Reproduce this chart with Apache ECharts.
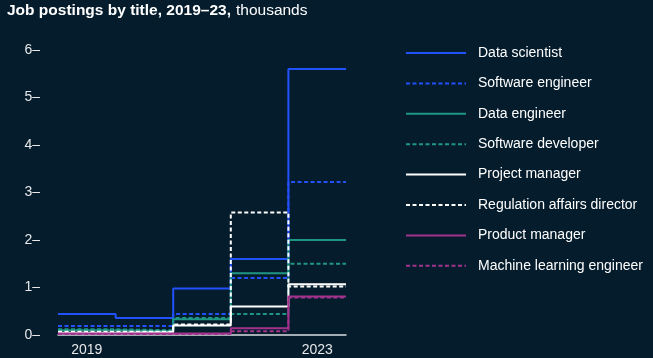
<!DOCTYPE html>
<html><head><meta charset="utf-8">
<script src="https://cdn.jsdelivr.net/npm/echarts@6/dist/echarts.min.js"></script>
<style>html,body{margin:0;padding:0;background:#051c2c;}#c{width:653px;height:358px;}</style>
</head><body><div id="c"></div>
<script>
const years = ['2019','2020','2021','2022','2023'];
const yTicks = [0,1,2,3,4,5,6];
const dataScientist      = [0.44, 0.36, 0.98, 1.60, 5.60];
const softwareEngineer   = [0.19, 0.19, 0.44, 1.20, 3.22];
const dataEngineer       = [0.10, 0.08, 0.33, 1.30, 2.00];
const softwareDeveloper  = [0.12, 0.10, 0.36, 0.44, 1.50];
const projectManager     = [0.05, 0.06, 0.20, 0.60, 1.07];
const regulationDirector = [0.07, 0.07, 0.22, 2.58, 1.02];
const productManager     = [0.03, 0.03, 0.03, 0.14, 0.81];
const mlEngineer         = [0.02, 0.02, 0.02, 0.08, 0.79];

const BLUE='#2251ff', TEAL='#1f9684', WHITE='#ffffff', MAG='#a2338d';
const FONT='Liberation Sans, Arial, sans-serif';
const defs = [
  ['Data scientist', dataScientist, BLUE, 'solid'],
  ['Software engineer', softwareEngineer, BLUE, 'dashed'],
  ['Data engineer', dataEngineer, TEAL, 'solid'],
  ['Software developer', softwareDeveloper, TEAL, 'dashed'],
  ['Project manager', projectManager, WHITE, 'solid'],
  ['Regulation affairs director', regulationDirector, WHITE, 'dashed'],
  ['Product manager', productManager, MAG, 'solid'],
  ['Machine learning engineer', mlEngineer, MAG, 'dashed']
];
function stepData(vals){
  const d = vals.map((v,i)=>[i,v]);
  d.push([vals.length, vals[vals.length-1]]);
  return d;
}
const series = defs.map(([name, vals, color, type])=>({
  name, type:'line', step:'end', xAxisIndex:0, symbol:'none',
  data: stepData(vals),
  lineStyle:{color, width:2, type: type==='dashed'?[4,2.5]:'solid'},
  itemStyle:{color},
  emphasis:{disabled:true}
}));
const chart = echarts.init(document.getElementById('c'));
chart.setOption({
  backgroundColor:'#051c2c',
  animation:false,
  title:{
    left:2, top:-3,
    text:'{b|Job postings by title, 2019–23,} {r|thousands}',
    textStyle:{rich:{
      b:{fontFamily:FONT, fontWeight:'bold', fontSize:15.5, color:'#ffffff'},
      r:{fontFamily:FONT, fontWeight:'normal', fontSize:15.5, color:'#ffffff'}
    }}
  },
  grid:{left:58, right:307, top:50, bottom:23, containLabel:false},
  legend:{
    orient:'vertical', left:400, top:41,
    itemWidth:60, itemHeight:14, itemGap:16.4,
    itemStyle:{opacity:0},
    textStyle:{color:'#ffffff', fontSize:14, fontFamily:FONT, padding:[0,0,0,7]},
    data: defs.map(d=>d[0])
  },
  xAxis:[
    {type:'value', min:0, max:years.length, show:true,
     axisLine:{show:true, lineStyle:{color:'#d9dde0', width:1.5}},
     axisTick:{show:false}, axisLabel:{show:false}, splitLine:{show:false}},
    {type:'category', data:years, boundaryGap:true, position:'bottom',
     axisLine:{show:false}, axisTick:{show:false}, splitLine:{show:false},
     axisLabel:{color:'#e6e8ea', fontSize:14, fontFamily:FONT, margin:8,
       interval:0, formatter:(v,i)=> (i===0||i===years.length-1)?v:''}}
  ],
  yAxis:{
    type:'value', min:yTicks[0], max:yTicks[yTicks.length-1], interval:1,
    axisLine:{show:false},
    axisTick:{show:false},
    axisLabel:{color:'#e6e8ea', fontSize:14, fontFamily:FONT, margin:18,
      formatter:(v)=> v + '–'},
    splitLine:{show:false}
  },
  series
});
</script></body></html>
